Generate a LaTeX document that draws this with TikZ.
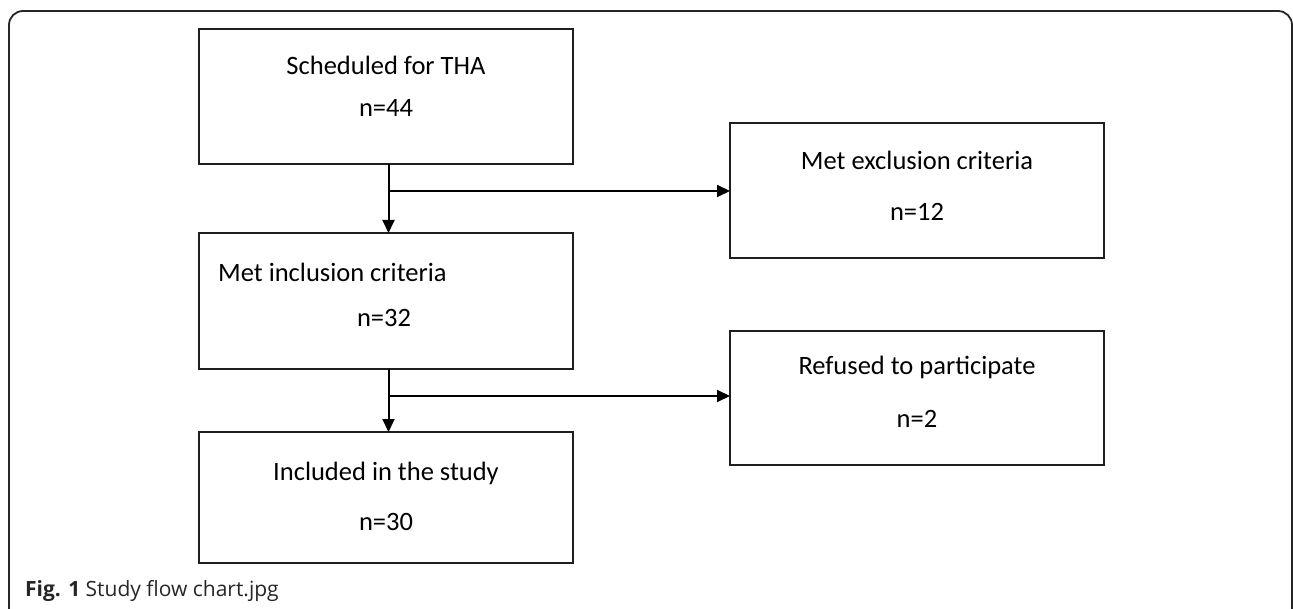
\documentclass[tikz,border=0pt]{standalone}
\usepackage{fontspec}
\setmainfont{Carlito}
\newfontfamily\capfont{Open Sans}
\usetikzlibrary{arrows.meta}
\begin{document}
\begin{tikzpicture}[x=1pt,y=-1pt,
  boxnode/.style={draw=black!88,line width=1.8pt,rectangle,inner sep=0pt,outer sep=0pt},
  txt/.style={font=\fontsize{26.5}{30}\selectfont,text=black,inner sep=0pt},
  arr/.style={draw=black,line width=2pt,-{Triangle[width=12pt,length=13pt]}},
  conn/.style={draw=black,line width=2pt}]
\useasboundingbox (0,0) rectangle (1293,609);
\clip (0,0) rectangle (1293,609);
% outer frame
\draw[line width=1.8pt,draw=black!85,rounded corners=14pt] (9,640) -- (9,11) -- (1292,11) -- (1292,640);
% boxes
\node[boxnode,minimum width=374pt,minimum height=135pt] (b1) at (386,96.5) {};
\node[boxnode,minimum width=374pt,minimum height=135pt] (b2) at (917,190.5) {};
\node[boxnode,minimum width=374pt,minimum height=136pt] (b3) at (386,301) {};
\node[boxnode,minimum width=374pt,minimum height=134pt] (b4) at (917,398) {};
\node[boxnode,minimum width=374pt,minimum height=131pt] (b5) at (386,497.5) {};
% texts
\node[txt] (t1a) at (386,65) {Scheduled for THA};
\node[txt] (t1b) at (386,108) {n=44};
\node[txt] (t2a) at (917,160) {Met exclusion criteria};
\node[txt] (t2b) at (917,212) {n=12};
\node[txt,anchor=west] (t3a) at (218,272) {Met inclusion criteria};
\node[txt] (t3b) at (384,318) {n=32};
\node[txt] (t4a) at (917,367) {Refused to participate};
\node[txt] (t4b) at (917,419) {n=2};
\node[txt] (t5a) at (386,473) {Included in the study};
\node[txt] (t5b) at (386,522) {n=30};
% connectors
\coordinate (j1) at (388.5,191);
\coordinate (j2) at (388.5,396);
\draw[arr] (j1 |- b1.south) -- (j1 |- b3.north);
\draw[arr] (j1) -- (j1 -| b2.west);
\draw[arr] (j2 |- b3.south) -- (j2 |- b5.north);
\draw[arr] (j2) -- (j2 -| b4.west);
% caption
\node[anchor=base west,inner sep=0pt,font=\capfont\fontsize{21}{24}\selectfont,text=black!85] (cap) at (25,596) {\textbf{Fig. 1} Study flow chart.jpg};
\end{tikzpicture}
\end{document}
